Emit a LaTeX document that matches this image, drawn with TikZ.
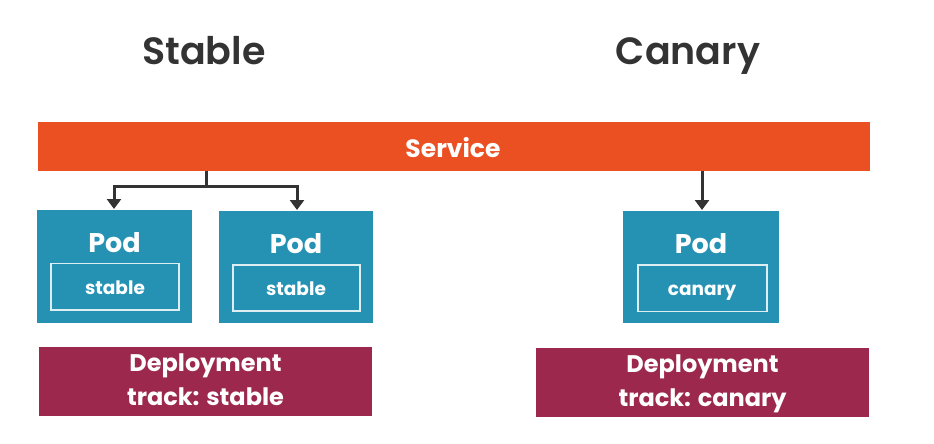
\documentclass[tikz,border=0pt]{standalone}
\usepackage{fontspec}
\setmainfont{Poppins}
\newfontfamily\semib{Poppins SemiBold}
\usetikzlibrary{arrows.meta}
\definecolor{svc}{HTML}{EB5023}
\definecolor{pod}{HTML}{2592B4}
\definecolor{dep}{HTML}{9C284E}
\definecolor{ink}{HTML}{333333}
\tikzset{
  box/.style={inner sep=0pt, outer sep=0pt},
  podbox/.style={box, fill=pod},
  inbox/.style={box, draw=white!85!pod, line width=1.3pt},
  depbox/.style={box, fill=dep},
  wtxt/.style={text=white, inner sep=0pt, anchor=base, align=center},
  title/.style={text=ink, font=\semib\fontsize{38}{40}\selectfont, inner sep=0pt, anchor=base},
  podf/.style={wtxt, font=\bfseries\fontsize{27}{29}\selectfont},
  labf/.style={wtxt, font=\bfseries\fontsize{18.5}{20}\selectfont},
  depf/.style={wtxt, font=\bfseries\fontsize{24}{34}\selectfont},
  conn/.style={draw=ink, line width=3pt, -{Triangle[width=14pt,length=10pt]}},
}
\begin{document}
\begin{tikzpicture}[x=1pt,y=-1pt]
\useasboundingbox (0,0) rectangle (934,444);
% titles
\node[title] (tstable) at (204,65) {Stable};
\node[title] (tcanary) at (688,65) {Canary};
% service
\fill[svc] (38,122) rectangle (870,171);
\node[wtxt, font=\bfseries\fontsize{25}{27}\selectfont] (svc) at (453,157) {Service};
\coordinate (s1) at (206,171);
\coordinate (s2) at (702,171);
\coordinate (split) at (206,186);
% pods
\fill[podbox] (37,210) rectangle (192,323);
\fill[podbox] (219,211) rectangle (373,323);
\fill[podbox] (623,211) rectangle (779,323);
\coordinate (p1) at (114,209);
\coordinate (p2) at (297,210);
\coordinate (p3) at (702,210);
\node[podf] (pod1) at (114.5,252) {Pod};
\node[podf] (pod2) at (296,253) {Pod};
\node[podf] (pod3) at (701,253) {Pod};
\draw[inbox] (51,263.5) rectangle (179,310);
\draw[inbox] (233,265) rectangle (360,311);
\draw[inbox] (638,265) rectangle (767,311.5);
\node[labf] (l1) at (115,294) {stable};
\node[labf] (l2) at (296,295) {stable};
\node[labf] (l3) at (702,295) {canary};
% arrows
\draw[draw=ink, line width=3pt] (s1) -- (split);
\draw[conn] (split) -| (p1);
\draw[conn] (split) -| (p2);
\draw[conn] (s2) -- (p3);
% deployments
\fill[depbox] (39,347) rectangle (372,416);
\fill[depbox] (536,348) rectangle (869,417);
\node[depf] (d1) at (205.5,371) {Deployment};
\node[depf] (d1b) at (205.5,405) {track: stable};
\node[depf] (d2) at (702.5,372) {Deployment};
\node[depf] (d2b) at (702.5,406) {track: canary};
\end{tikzpicture}
\end{document}
